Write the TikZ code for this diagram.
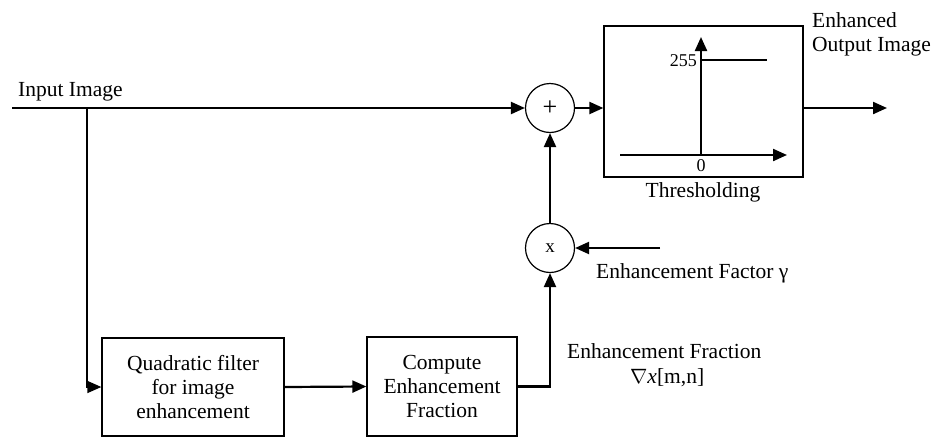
\documentclass[tikz,border=0pt]{standalone}
\usepackage{fontspec}
\setmainfont{Liberation Serif}
\usetikzlibrary{arrows.meta,calc}
\begin{document}
\begin{tikzpicture}[x=1pt,y=-1pt,
  font=\fontsize{21.5}{24}\selectfont,
  tip/.style={-{Triangle[length=14pt,width=12pt]}},
  conn/.style={line width=2.2pt,line join=miter,tip},
  thinconn/.style={line width=1.3pt,line join=miter,-{Triangle[length=14pt,width=12pt]}},
  blockbox/.style={draw,line width=1.3pt,align=center,inner sep=0pt},
  opcircle/.style={draw,circle,line width=1.2pt,inner sep=0pt,minimum size=49pt,font=\fontsize{19}{22}\selectfont},
  lbl/.style={inner sep=0pt,anchor=base west},
  num/.style={inner sep=0pt,font=\fontsize{18}{20}\selectfont}
]
\useasboundingbox (0,0) rectangle (940,437);

% nodes
\node[opcircle,font=\fontsize{26}{28}\selectfont] (sum) at (550,108) {+};
\node[opcircle] (mult) at (550,248) {x};
\node[blockbox,minimum width=199pt,minimum height=151pt] (thr) at (703.5,101.5) {};
\node[blockbox,minimum width=182pt,minimum height=98pt] (quad) at (193,387) {Quadratic filter\\for image\\enhancement};
\node[blockbox,minimum width=150pt,minimum height=99pt] (comp) at (442,386.5) {Compute\\Enhancement\\Fraction};

% free ends
\coordinate (in) at (12,108);
\coordinate (br) at (87,108);
\coordinate (ef) at (660,248);
\coordinate (out) at (887,108);

% connectors
\draw[conn] (in) -- (sum.west);
\draw[thinconn] (br) |- (quad.west);
\draw[conn] (quad.east) -- (comp.west);
\draw[conn] (comp.east) -| (mult.south);
\draw[conn] (mult.north) -- (sum.south);
\draw[conn] (ef) -- (mult.east);
\draw[conn] (sum.east) -- (sum.east -| thr.west);
\draw[conn] (out -| thr.east) -- (out);

% threshold graph inside box
\coordinate (o) at (701,155);
\coordinate (ytop) at (701,37);
\coordinate (xl) at (620,155);
\coordinate (xr) at (787,155);
\draw[line width=2.2pt,tip] (o) -- (ytop);
\draw[line width=2.2pt,tip] (xl) -- (xr);
\draw[line width=1.3pt] (701,60) -- (767,60);
\node[num,anchor=east] (l255) at (697,61) {255};
\node[num,anchor=north] (l0) at (701,159) {0};

% labels
\node[lbl] (tin) at (18,96) {Input Image};
\node[lbl,align=left,anchor=north west] (tout) at (812,12) {Enhanced\\Output Image};
\node[inner sep=0pt,anchor=base] (tthr) at (703,197) {Thresholding};
\node[lbl] (tef) at (596,278) {Enhancement Factor γ};
\node[lbl] (tefr) at (567,358) {Enhancement Fraction};
\node[lbl] (tnab) at (630,383) {$\nabla$\textit{x}[m,n]};
\end{tikzpicture}
\end{document}
